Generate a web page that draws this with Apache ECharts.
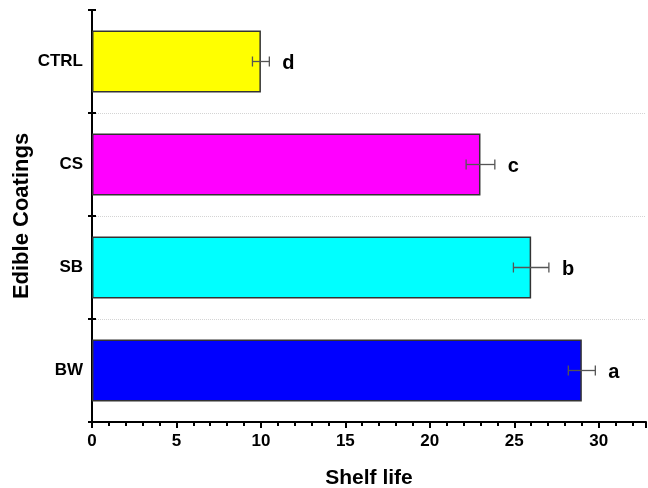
<!DOCTYPE html>
<html lang="en">
<head>
    <meta charset="UTF-8">
    <title>Shelf life</title>
    <script src="https://cdn.jsdelivr.net/npm/echarts@6/dist/echarts.min.js"></script>
    <style>
        html, body { margin: 0; padding: 0; background: #fff; }
        #main { width: 648px; height: 488px; }
    </style>
</head>
<body>
    <div id="main"></div>
    <script>
        // data (bottom to top as drawn on the category axis)
        var coatings = ['BW', 'SB', 'CS', 'CTRL'];
        var shelfLife = [29, 26, 23, 10];
        var errors = [0.8, 1.05, 0.85, 0.5];
        var letters = ['a', 'b', 'c', 'd'];
        var barColors = ['#0000ff', '#00ffff', '#ff00ff', '#ffff00'];

        var chart = echarts.init(document.getElementById('main'));
        var font = 'Liberation Sans, Arial, sans-serif';

        chart.setOption({
            animation: false,
            grid: { left: 92, right: 2, top: 10, bottom: 66, outerBoundsMode: 'none', containLabel: false },
            xAxis: {
                type: 'value',
                min: 0,
                max: 32.8,
                interval: 5,
                name: 'Shelf life',
                nameLocation: 'middle',
                nameGap: 46,
                nameTextStyle: { fontFamily: font, fontWeight: 'bold', fontSize: 21, color: '#000' },
                axisLine: { show: true, lineStyle: { color: '#000', width: 2 } },
                axisTick: { show: true, inside: false, length: 6, lineStyle: { color: '#000', width: 2 } },
                minorTick: { show: true, splitNumber: 5, length: 4, lineStyle: { color: '#000', width: 2 } },
                axisLabel: { showMaxLabel: false, margin: 11, fontFamily: font, fontWeight: 'bold', fontSize: 17, color: '#000' },
                splitLine: { show: false }
            },
            yAxis: [{
                type: 'category',
                data: coatings,
                name: 'Edible Coatings',
                nameLocation: 'middle',
                nameGap: 59,
                nameMoveOverlap: false,
                nameTextStyle: { fontFamily: font, fontWeight: 'bold', fontSize: 22, color: '#000' },
                axisLine: { show: true, lineStyle: { color: '#000', width: 2 } },
                axisTick: { show: true, length: 4, lineStyle: { color: '#000', width: 2 } },
                axisLabel: { margin: 9, fontFamily: font, fontWeight: 'bold', fontSize: 17, color: '#000' },
                splitLine: {
                    show: true,
                    showMaxLine: false,
                    lineStyle: { color: '#d4d4d4', type: 'dotted', width: 1 }
                }
            }, {
                type: 'category',
                data: coatings,
                position: 'left',
                axisLine: { show: false },
                axisTick: { show: true, inside: true, length: 4, lineStyle: { color: '#000', width: 2 } },
                axisLabel: { show: false },
                splitLine: { show: false }
            }],
            series: [{
                type: 'bar',
                data: shelfLife.map(function (v, i) {
                    return { value: v, itemStyle: { color: barColors[i] } };
                }),
                barWidth: '60%',
                itemStyle: { borderColor: '#333', borderWidth: 1.5 }
            }, {
                type: 'custom',
                data: shelfLife.map(function (v, i) { return [i, v, errors[i]]; }),
                encode: { x: 1, y: 0 },
                z: 10,
                renderItem: function (params, api) {
                    var cat = api.value(0), v = api.value(1), e = api.value(2);
                    var lo = api.coord([v - e, cat]);
                    var hi = api.coord([v + e, cat]);
                    var cap = 5;
                    var style = { stroke: '#555', lineWidth: 1.3 };
                    return {
                        type: 'group',
                        children: [
                            { type: 'line', shape: { x1: lo[0], y1: lo[1], x2: hi[0], y2: hi[1] }, style: style },
                            { type: 'line', shape: { x1: lo[0], y1: lo[1] - cap, x2: lo[0], y2: lo[1] + cap }, style: style },
                            { type: 'line', shape: { x1: hi[0], y1: hi[1] - cap, x2: hi[0], y2: hi[1] + cap }, style: style },
                            {
                                type: 'text',
                                x: hi[0] + 13,
                                y: hi[1] + 2,
                                style: {
                                    text: letters[params.dataIndex],
                                    fill: '#000',
                                    font: 'bold 20px ' + font,
                                    verticalAlign: 'middle'
                                }
                            }
                        ]
                    };
                }
            }]
        });
    </script>
</body>
</html>
